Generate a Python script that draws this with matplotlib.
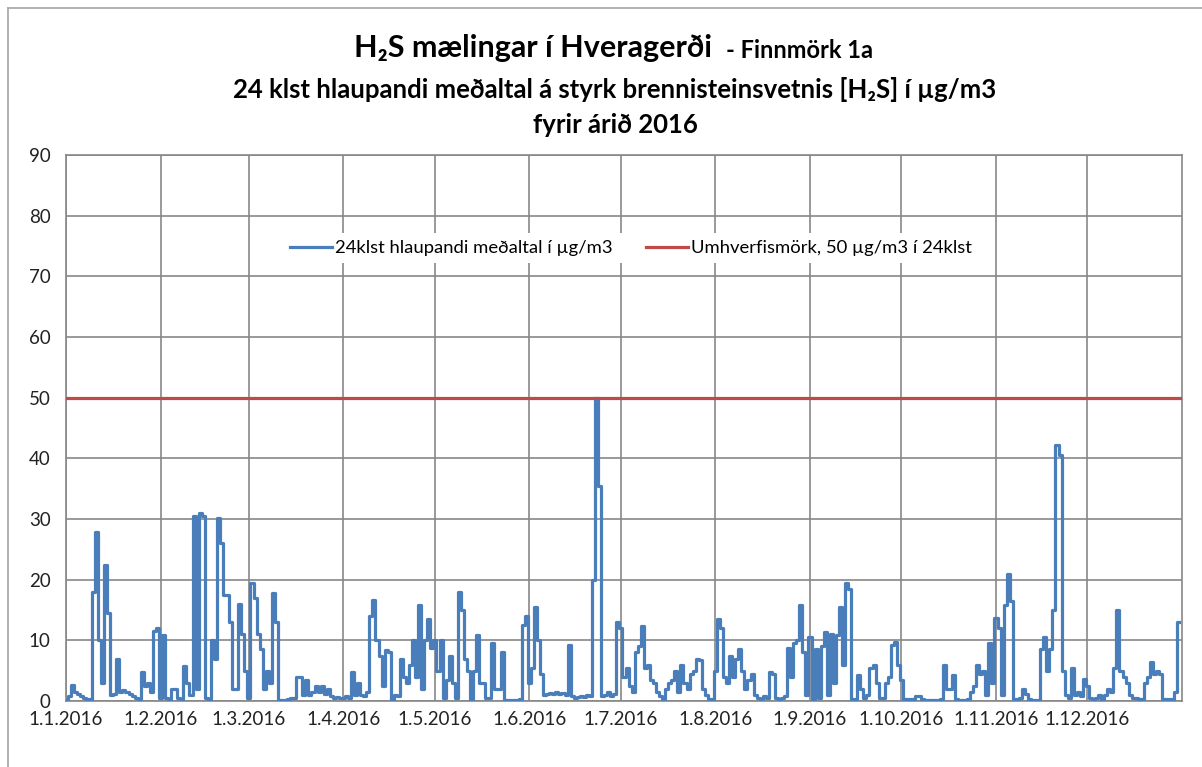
import numpy as np
import pandas as pd
import matplotlib
matplotlib.use('Agg')
import matplotlib.pyplot as plt
from matplotlib.lines import Line2D

plt.rcParams['font.family'] = ['Lato', 'DejaVu Sans']

# ── Daglegt mat á 24 klst hlaupandi meðaltali (µg/m3), lesið af mynd ──
jan = [0.2, 0.8, 2.7, 1.5, 1.2, 0.8, 0.5, 0.4, 0.3, 18, 27.8, 10, 3, 22.5, 14.5, 1,
       1.2, 7, 1.5, 1.8, 1.5, 1.2, 0.8, 0.5, 0.3, 4.8, 2.5, 3, 1.5, 11.5, 12]
feb = [0.5, 10.8, 0.5, 0.3, 2, 2, 0.5, 0.3, 5.8, 3, 1, 30.5, 2, 31, 30.5, 0.5,
       0.3, 10, 7, 30.2, 26, 17.5, 17.5, 13, 2, 2, 16, 11, 5]
mar = [0.5, 19.5, 17, 11, 8.5, 2, 5, 3, 17.8, 13, 0.2, 0.2, 0.2, 0.3, 0.5, 0.5,
       4, 4, 1, 3.5, 1, 1.5, 2.5, 1.5, 2.5, 1.2, 2, 0.8, 0.5, 0.6, 0.5]
apr = [0.5, 0.8, 0.5, 4.7, 1, 3, 1, 0.8, 1.5, 14, 16.7, 10, 7.5, 2.5, 8.4, 8,
       0.2, 1, 0.8, 7, 4, 3, 6, 10, 4, 15.8, 2, 10, 13.5, 8.8]
may = [10, 5, 10, 0.5, 3.5, 7.5, 3, 0.5, 18, 15, 7, 5, 0.3, 5, 10.8, 3,
       3, 0.5, 0.5, 9.6, 2, 2, 8, 0.2, 0.2, 0.2, 0.2, 0.2, 0.3, 12.5, 14]
jun = [3, 5.5, 15.5, 10, 4.5, 1, 1.2, 1.3, 1.2, 1.5, 1.2, 1.3, 1, 9.3, 0.8, 0.5,
       0.7, 0.8, 0.6, 1, 0.8, 20, 50, 35.5, 0.8, 1, 1.5, 0.8, 1.2, 13]
jul = [12, 4, 5.5, 2.5, 1.5, 8, 9, 12.3, 5.5, 6, 3.5, 3, 1.5, 0.8, 0.3, 2,
       3, 3.5, 5, 1.5, 6, 3, 2, 4.5, 5, 7, 6.8, 2, 1, 0.3, 0.3]
aug = [5, 13.5, 12, 4, 3, 7.5, 4, 7, 8.5, 5, 2, 3.5, 4.5, 1, 0.5, 0.3,
       0.8, 0.5, 4.7, 4.5, 0.5, 0.4, 0.5, 0.8, 8.8, 4, 9.5, 10, 15.8, 8, 1]
sep = [10.5, 0.3, 8.5, 0.5, 9, 11.3, 1, 11, 3, 10.8, 15.5, 6, 19.4, 18.5, 0.3, 0.3,
       4.3, 2, 0.5, 1, 5.5, 6, 3, 0.5, 0.5, 3, 4, 9.2, 9.8, 6]
okt = [3.5, 0.3, 0.3, 0.3, 0.3, 0.8, 0.8, 0.3, 0.2, 0.2, 0.2, 0.2, 0.2, 0.3, 6, 2,
       2, 4.3, 0.3, 0.2, 0.2, 0.2, 0.3, 1.5, 2.5, 6, 4.5, 5, 1, 9.5, 3]
nov = [13.6, 12, 1, 15.8, 21, 16.5, 0.3, 0.3, 0.5, 2, 1.2, 0.3, 0.2, 0.2, 0.2, 8.6,
       10.5, 5, 8.5, 15, 42.2, 40.5, 5, 1, 0.5, 5.5, 1, 1.5, 0.8, 3.7]
des = [2.5, 0.5, 0.3, 0.5, 1, 0.3, 1, 2, 1.5, 5.5, 15, 5, 4, 3, 1, 0.5,
       0.5, 0.3, 0.3, 3, 4, 6.5, 4.5, 5, 4.5, 0.3, 0.3, 0.3, 0.3, 1.5, 13]

h2s = np.concatenate([jan, feb, mar, apr, may, jun, jul, aug, sep, okt, nov, des])
dagar = pd.date_range('2016-01-01', '2016-12-31', freq='D')
assert len(h2s) == len(dagar)

umhverfismork = 50
man_byrjun = pd.date_range('2016-01-01', periods=12, freq='MS')
man_labels = [f'{d.day}.{d.month}.{d.year}' for d in man_byrjun]

# ── Mynd ──────────────────────────────────────────────────────
fig = plt.figure(figsize=(12.02, 7.67), dpi=100)
ax = fig.add_axes([66 / 1202, 1 - 701 / 767, 1116 / 1202, 546 / 767])

x = dagar.dayofyear - 1
ax.plot(x, h2s, color='#4A7EBB', linewidth=2.3, drawstyle='steps-mid',
        label='24klst hlaupandi meðaltal í µg/m3', zorder=3)
ax.plot([0, len(dagar)], [umhverfismork, umhverfismork], color='#BE4B48',
        linewidth=2.3, label='Umhverfismörk, 50 µg/m3 í 24klst', zorder=3)

ax.set_xlim(0, len(dagar))
ax.set_ylim(0, 90)
ax.set_yticks(range(0, 91, 10))
ax.set_xticks(man_byrjun.dayofyear - 1)
ax.set_xticklabels(man_labels)
ax.grid(True, color='#878787', linewidth=1.2, zorder=0)
ax.set_axisbelow(True)
for s in ax.spines.values():
    s.set_color('#878787')
    s.set_linewidth(1.2)
ax.tick_params(axis='y', length=0, pad=11, labelsize=13.5, labelcolor='#222222')
ax.tick_params(axis='x', length=0, pad=7, labelsize=13.5, labelcolor='#222222')

leg = ax.legend(loc='center', bbox_to_anchor=(0.506, 1 - (248 - 155) / 546),
                ncol=2, frameon=True, fontsize=13.3, handlelength=2.3,
                handletextpad=0.15, columnspacing=1.8, borderpad=0.4)
leg.get_frame().set_edgecolor('none')
leg.get_frame().set_facecolor('white')
leg.get_frame().set_alpha(1)

# titill
fig.text(712 / 1202, 1 - 48 / 767, 'H₂S mælingar í Hveragerði', ha='right',
         va='center', fontsize=22, fontweight='bold')
fig.text(726 / 1202, 1 - 50 / 767, '- Finnmörk 1a', ha='left',
         va='center', fontsize=17, fontweight='bold')
fig.text(615 / 1202, 1 - 90 / 767,
         '24 klst hlaupandi meðaltal á styrk brennisteinsvetnis [H₂S] í µg/m3',
         ha='center', va='center', fontsize=18.5, fontweight='bold')
fig.text(615 / 1202, 1 - 125 / 767, 'fyrir árið 2016',
         ha='center', va='center', fontsize=18.5, fontweight='bold')

# rammi um myndsvæði
fig.add_artist(Line2D([8 / 1202, 8 / 1202], [0, 1 - 8 / 767],
                      transform=fig.transFigure, color='#a6a6a6', linewidth=1.2))
fig.add_artist(Line2D([8 / 1202, 1], [1 - 8 / 767, 1 - 8 / 767],
                      transform=fig.transFigure, color='#a6a6a6', linewidth=1.2))

plt.savefig('out.png', dpi=100)
plt.close()
